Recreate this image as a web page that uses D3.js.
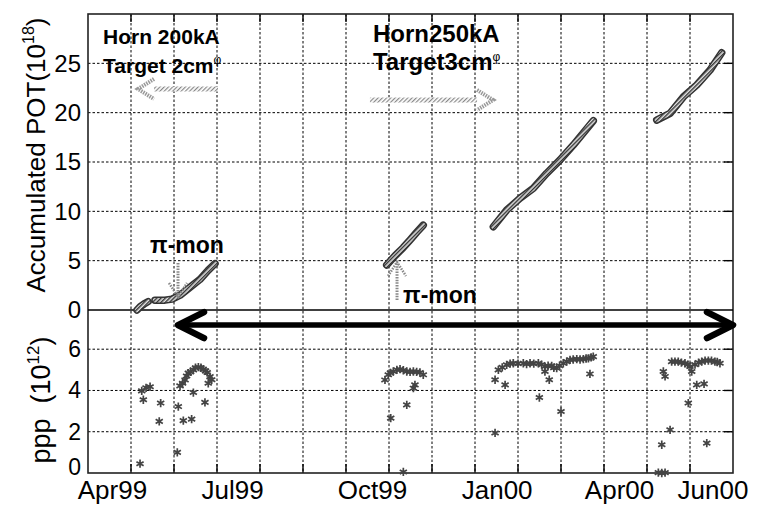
<!DOCTYPE html>
<html><head><meta charset="utf-8">
<script src="https://cdn.jsdelivr.net/npm/d3@7"></script>
<style>
html,body{margin:0;padding:0;background:#fff;}
svg{display:block;font-family:"Liberation Sans",Arial,Helvetica,sans-serif;}
</style></head><body>
<svg id="c" width="757" height="508"></svg>
<script>
// ---------------- data ----------------
const xTickLabels = ["Apr99","Jul99","Oct99","Jan00","Apr00","Jun00"];
const xTickDays   = [16.7, 100.5, 198.1, 285.1, 370.5, 435.7];
const gridDays    = [30,60,90,120,150,180,210,240,270,300,330,360,390,420];
const potTicks    = [0,5,10,15,20,25];
const potGrid     = [5,10,15,20,25];
const pppTicks    = [0,2,4,6];
const pppGrid     = [2,4,6];

// accumulated POT runs [day, 10^18]
const potRun1a = [[34.2,0],[36.5,0.35],[39,0.6],[41.9,0.85]];
const potRun1b = [[46.7,1.0],[50,1.0],[53.7,1.0],[58.6,1.1],[64.2,1.5],[71.2,2.3],[78.1,3.1],[83.7,4.0],[88.6,4.7]];
const potRun2  = [[208.4,4.56],[214.2,5.5],[219.8,6.3],[224.7,7.1],[229.5,7.9],[233.9,8.6]];
const potRun3  = [[282.8,8.44],[292.1,10.13],[301.4,11.32],[310.7,12.33],[320.0,13.85],[329.3,15.20],[338.6,16.72],[352.5,19.18]];
const potRun4  = [[396.8,19.25],[406.1,19.93],[415.4,21.61],[424.7,22.80],[434.0,24.32],[442.1,26.07]];

// protons per pulse [day, 10^12]
const pppSpring99 = [[36.3,0.45],[37.5,3.98],[40.5,4.13],[43.3,4.18],[38.6,3.55],[50.7,3.39],[49.7,2.50],[62.3,1.00],[63.0,3.22],
  [66.5,2.54],[72.3,2.61],[73.5,3.90],[81.6,3.42],[64.2,4.22],[66,4.35],[67.7,4.51],[68.8,4.7],[70.0,4.84],[71.5,4.9],[73.5,5.00],
  [75,5.1],[77.0,5.13],[78.8,5.1],[80.4,5.03],[82,4.95],[83.2,4.87],[85.1,4.67],[86.3,4.52],[83.9,4.35]];
const pppAutumn99 = [[207.2,4.51],[209.5,4.76],[211,4.85],[213.0,4.92],[215.5,5.0],[217.7,5.03],[220,4.98],[222.4,4.92],[224.7,4.9],
  [227.0,4.92],[229.3,4.9],[231.6,4.87],[233.9,4.76],[228.1,4.27],[227.0,4.11],[222.4,3.30],[211.2,2.66],[220.0,0.05]];
const pppWinter00 = [[284.0,1.94],[284.0,4.52],[291.0,4.27],[286.3,5.00],[289,5.12],[292.1,5.24],[294.5,5.3],[296.7,5.32],[300,5.3],
  [303.7,5.32],[306,5.28],[308.4,5.32],[311,5.3],[314.2,5.32],[316.5,5.25],[318.8,5.16],[321,5.2],[323.5,5.19],[325,5.1],[327.0,5.08],
  [329,5.2],[331.6,5.32],[334,5.4],[336.3,5.48],[338.5,5.5],[341.0,5.52],[343.3,5.5],[345.6,5.52],[347.5,5.55],[349.1,5.56],[351,5.6],
  [352.5,5.64],[318.8,4.92],[321.8,4.52],[314.9,3.66],[330.0,2.98],[350.2,4.80]];
const pppSpring00 = [[397.9,0.02],[400.3,0.0],[402.6,0.02],[400.3,1.37],[406.1,2.09],[431.7,1.45],[418.8,3.39],[424.7,4.27],[429.8,4.32],
  [401.4,4.92],[402.6,4.68],[407.2,5.40],[409.5,5.4],[411.8,5.40],[414,5.35],[416.5,5.32],[418.5,5.25],[420.0,5.16],[421.2,4.92],
  [423.5,5.25],[426,5.35],[428.2,5.40],[430.5,5.45],[432.8,5.45],[435,5.45],[437.4,5.40],[439,5.38],[440.9,5.32]];

// ---------------- layout ----------------
const svg = d3.select("#c");
const L = 88, R = 733, T = 14, MID = 310, B = 473;
const x = d3.scaleLinear().domain([0,450]).range([L,R]);
const yTop = d3.scaleLinear().domain([0,30]).range([MID,T]);
const yBot = d3.scaleLinear().domain([0,7.9]).range([B,MID]);

const defs = svg.append("defs");
const hp = defs.append("pattern").attr("id","hatch").attr("patternUnits","userSpaceOnUse")
  .attr("width",3).attr("height",3).attr("patternTransform","rotate(45)");
hp.append("rect").attr("width",3).attr("height",3).attr("fill","#e0e0e0");
hp.append("rect").attr("width",1.4).attr("height",3).attr("fill","#333");
const hl = defs.append("pattern").attr("id","hatchLight").attr("patternUnits","userSpaceOnUse")
  .attr("width",3).attr("height",3).attr("patternTransform","rotate(45)");
hl.append("rect").attr("width",3).attr("height",3).attr("fill","#fff");
hl.append("rect").attr("width",1.2).attr("height",3).attr("fill","#888");

// grid lines
const grid = svg.append("g").attr("stroke","#000").attr("stroke-width",1).attr("stroke-dasharray","2.5,2").attr("fill","none");
grid.selectAll("line.v").data(gridDays).join("line")
  .attr("x1",d=>x(d)).attr("x2",d=>x(d)).attr("y1",T).attr("y2",B);
grid.selectAll("line.ht").data(potGrid).join("line")
  .attr("x1",L).attr("x2",R).attr("y1",d=>yTop(d)).attr("y2",d=>yTop(d));
grid.selectAll("line.hb").data(pppGrid).join("line")
  .attr("x1",L).attr("x2",R).attr("y1",d=>yBot(d)).attr("y2",d=>yBot(d));

// inward solid ticks
const tk = svg.append("g").attr("stroke","#000").attr("stroke-width",1.4);
gridDays.forEach(d=>{
  tk.append("line").attr("x1",x(d)).attr("x2",x(d)).attr("y1",B).attr("y2",B-9);
  tk.append("line").attr("x1",x(d)).attr("x2",x(d)).attr("y1",T).attr("y2",T+8);
});
potGrid.forEach(v=>{
  tk.append("line").attr("x1",R).attr("x2",R-9).attr("y1",yTop(v)).attr("y2",yTop(v));
});
pppGrid.forEach(v=>{
  tk.append("line").attr("x1",R).attr("x2",R-9).attr("y1",yBot(v)).attr("y2",yBot(v));
});

// frame
svg.append("rect").attr("x",L).attr("y",T).attr("width",R-L).attr("height",B-T)
  .attr("fill","none").attr("stroke","#222").attr("stroke-width",1.6);
svg.append("line").attr("x1",L).attr("x2",R).attr("y1",MID).attr("y2",MID).attr("stroke","#000").attr("stroke-width",1.4);

// axes (labels)
const fontAxis = g => g.call(g=>g.select(".domain").remove())
  .selectAll("text").attr("font-family",'"Liberation Sans",Arial,sans-serif').attr("fill","#000");
svg.append("g").attr("transform",`translate(${L},0)`)
  .call(d3.axisLeft(yTop).tickValues(potTicks).tickSize(0).tickPadding(7))
  .call(fontAxis).selectAll("text").attr("font-size",24);
svg.append("g").attr("transform",`translate(${L},0)`)
  .call(d3.axisLeft(yBot).tickValues(pppTicks).tickSize(0).tickPadding(7))
  .call(fontAxis).selectAll("text").attr("font-size",23)
  .attr("dy",d=>d===0?"0.05em":"0.32em");
svg.append("g").attr("transform",`translate(0,${B})`)
  .call(d3.axisBottom(x).tickValues(xTickDays).tickFormat((d,i)=>xTickLabels[i]).tickSize(0).tickPadding(8))
  .call(fontAxis).selectAll("text").attr("font-size",26);

// axis titles
const t1 = svg.append("text").attr("transform",`translate(45,155) rotate(-90)`)
  .attr("text-anchor","middle").attr("font-size",26);
t1.append("tspan").text("Accumulated POT(10");
t1.append("tspan").attr("font-size",16).attr("dy",-11).text("18");
t1.append("tspan").attr("dy",11).text(")");
const t2 = svg.append("text").attr("transform",`translate(50,400) rotate(-90)`)
  .attr("text-anchor","middle").attr("font-size",27).attr("xml:space","preserve");
t2.append("tspan").text("ppp  (10");
t2.append("tspan").attr("font-size",17).attr("dy",-11).text("12");
t2.append("tspan").attr("dy",11).text(")");

// POT runs
const line = d3.line().x(d=>x(d[0])).y(d=>yTop(d[1])).curve(d3.curveLinear);
const runs = [potRun1a,potRun1b,potRun2,potRun3,potRun4];
const pot = svg.append("g").attr("fill","none").attr("stroke-linecap","round").attr("stroke-linejoin","round");
pot.selectAll("path.o").data(runs).join("path").attr("d",line).attr("stroke","#333").attr("stroke-width",7.5);
pot.selectAll("path.i").data(runs).join("path").attr("d",line).attr("stroke","url(#hatch)").attr("stroke-width",4.5);

// ppp scatter
const ppp = [].concat(pppSpring99,pppAutumn99,pppWinter00,pppSpring00);
const sym = d3.symbol().type(d3.symbolAsterisk).size(48);
svg.append("g").selectAll("path").data(ppp).join("path")
  .attr("transform",d=>`translate(${x(d[0])},${yBot(d[1])})`)
  .attr("d",sym).attr("fill","none").attr("stroke","#444").attr("stroke-width",1.7);

// annotations
const ann = svg.append("g").attr("font-weight","bold").attr("fill","#000");
function label(day,val,str,size,sup){
  const t = ann.append("text").attr("x",x(day)).attr("y",yTop(val)).attr("font-size",size);
  t.append("tspan").text(str);
  if(sup){ t.append("tspan").attr("font-size",12).attr("dy",-9).attr("font-weight","normal").text(sup); }
  return t;
}
label(10.5,27.0,"Horn 200kA",21);
label(10.5,24.0,"Target 2cm",21,"\u03c6");
label(198.8,27.2,"Horn250kA",24);
label(198.8,24.35,"Target3cm",24,"\u03c6");
label(43.3,5.78,"\u03c0-mon",23);
label(219.8,0.71,"\u03c0-mon",23);

// hatched direction arrows (horizontal)
function hArrow(d0,d1,val,dir){
  const y = yTop(val), xs = x(d0), xe = x(d1);
  const g = svg.append("g");
  const tip = dir<0 ? xs : xe, base = dir<0 ? xs+16 : xe-16;
  g.append("rect").attr("x",dir<0?base:xs).attr("y",y-2.5).attr("width",dir<0?xe-base:base-xs).attr("height",5)
    .attr("fill","url(#hatchLight)");
  g.append("path").attr("d",`M${base},${y-10}L${tip},${y}L${base},${y+10}`)
    .attr("fill","none").attr("stroke","#999").attr("stroke-width",4).attr("stroke-dasharray","1.5,1");
}
hArrow(34.9,90.7,22.4,-1);
hArrow(196.7,282.6,21.28,1);

// hatched pi-mon arrows (vertical)
function vArrow(day,vFrom,vTo){
  const xx = x(day), y0 = yTop(vFrom), y1 = yTop(vTo);
  const dir = y1>y0 ? 1 : -1;
  const g = svg.append("g").attr("fill","none").attr("stroke","#888").attr("stroke-dasharray","1.5,1.2");
  g.append("line").attr("x1",xx).attr("x2",xx).attr("y1",y0).attr("y2",y1).attr("stroke-width",3);
  g.append("path").attr("d",`M${xx-9},${y1-dir*14}L${xx},${y1}L${xx+9},${y1-dir*14}`).attr("stroke-width",2.5);
}
vArrow(62.8,4.76,1.32);
vArrow(215.6,1.01,4.86);

// big black double arrow
const ya = yBot(7.17), xa0 = x(61.4), xa1 = x(451.4);
const big = svg.append("g").attr("fill","none").attr("stroke","#000").attr("stroke-linecap","round").attr("stroke-linejoin","round");
big.append("line").attr("x1",xa0+3).attr("x2",xa1-3).attr("y1",ya).attr("y2",ya).attr("stroke-width",5.5);
big.append("path").attr("d",`M${xa0+28},${ya-13}L${xa0+2},${ya}L${xa0+28},${ya+13}`).attr("stroke-width",6.5);
big.append("path").attr("d",`M${xa1-28},${ya-13}L${xa1-2},${ya}L${xa1-28},${ya+13}`).attr("stroke-width",6.5);
</script>
</body></html>
